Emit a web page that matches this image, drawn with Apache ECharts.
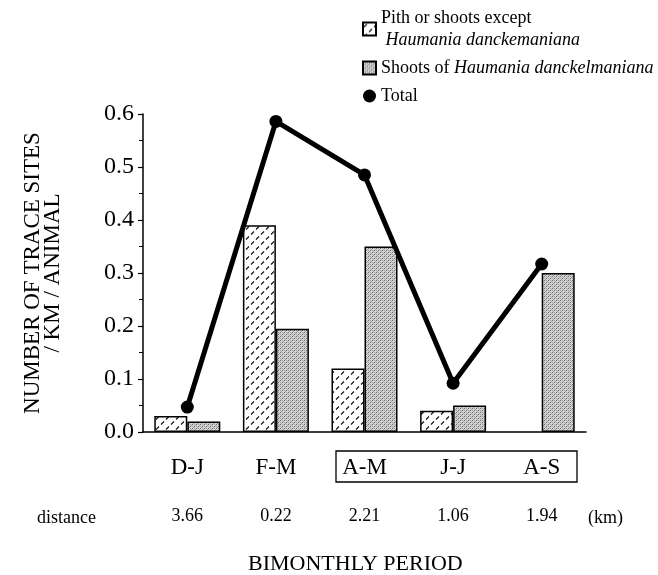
<!DOCTYPE html>
<html>
<head>
<meta charset="utf-8">
<script src="https://cdn.jsdelivr.net/npm/echarts@6/dist/echarts.min.js"></script>
<style>html,body{margin:0;padding:0;background:#fff}#c{width:658px;height:575px}</style>
</head>
<body>
<div id="c"></div>
<script>
// ---- data ----
const periods = ['D-J', 'F-M', 'A-M', 'J-J', 'A-S'];
const distances = ['3.66', '0.22', '2.21', '1.06', '1.94'];
const pith = [0.03, 0.39, 0.12, 0.04, null];
const shoots = [0.02, 0.195, 0.35, 0.05, 0.30];
const total = [0.047, 0.586, 0.485, 0.092, 0.317];
const yTicks = { min: 0, max: 0.6, interval: 0.1 };
const seriesNames = ['Pith or shoots except Haumania danckemaniana', 'Shoots of Haumania danckelmaniana', 'Total'];

const FONT = "'Liberation Serif', 'Times New Roman', serif";

function pithPattern() {
  const c = document.createElement('canvas');
  c.width = 10; c.height = 10;
  const g = c.getContext('2d');
  g.fillStyle = '#fff'; g.fillRect(0, 0, 10, 10);
  g.strokeStyle = '#111'; g.lineWidth = 1.1;
  g.beginPath();
  g.moveTo(1, 4.5); g.lineTo(4, 1.5);
  g.moveTo(6, 9.5); g.lineTo(9, 6.5);
  g.stroke();
  return c;
}
function shootsPattern() {
  const c = document.createElement('canvas');
  c.width = 4; c.height = 4;
  const g = c.getContext('2d');
  g.fillStyle = '#d4d4d4'; g.fillRect(0, 0, 4, 4);
  g.fillStyle = '#6e6e6e';
  g.fillRect(0, 0, 1, 1); g.fillRect(2, 2, 1, 1);
  g.fillStyle = '#a0a0a0';
  g.fillRect(2, 0, 1, 1); g.fillRect(0, 2, 1, 1); g.fillRect(1, 3, 1, 1); g.fillRect(3, 1, 1, 1);
  return c;
}

const chart = echarts.init(document.getElementById('c'), null, { renderer: 'canvas' });
const option = {
  animation: false,
  backgroundColor: '#fff',
  textStyle: { fontFamily: FONT, color: '#000' },
  grid: { left: 143, right: 72, top: 114, bottom: 143, containLabel: false },
  legend: {
    orient: 'vertical',
    left: 357,
    top: 4,
    itemGap: 10,
    itemWidth: 13,
    itemHeight: 13,
    data: [
      { name: seriesNames[0], icon: 'rect' },
      { name: seriesNames[1], icon: 'rect' },
      { name: seriesNames[2], icon: 'circle' }
    ],
    formatter: function (name) {
      if (name === seriesNames[0]) return '{n|Pith or shoots except}\n{i| Haumania danckemaniana}';
      if (name === seriesNames[1]) return '{n|Shoots of }{i|Haumania danckelmaniana}';
      return '{n|Total}';
    },
    textStyle: {
      fontFamily: FONT,
      rich: {
        n: { fontFamily: FONT, fontSize: 18, lineHeight: 22, color: '#000' },
        i: { fontFamily: FONT, fontSize: 18, lineHeight: 22, fontStyle: 'italic', color: '#000' }
      }
    }
  },
  xAxis: [
    {
      type: 'category',
      data: periods,
      axisLine: { lineStyle: { color: '#000', width: 1.5 } },
      axisTick: { show: false },
      axisLabel: { margin: 24, fontFamily: FONT, fontSize: 23, color: '#000' }
    },
    {
      type: 'category',
      data: distances,
      position: 'bottom',
      offset: 75,
      axisLine: { show: false },
      axisTick: { show: false },
      axisLabel: { margin: 0, fontFamily: FONT, fontSize: 18, color: '#000' }
    }
  ],
  yAxis: {
    type: 'value',
    min: yTicks.min, max: yTicks.max, interval: yTicks.interval,
    axisLine: { show: true, lineStyle: { color: '#000', width: 1.5 } },
    axisTick: { show: true, length: 5, lineStyle: { color: '#000', width: 1.2 } },
    minorTick: { show: true, splitNumber: 2, length: 4, lineStyle: { color: '#000', width: 1 } },
    splitLine: { show: false },
    axisLabel: { margin: 9, fontFamily: FONT, fontSize: 24, color: '#000', formatter: v => v.toFixed(1) },
    name: 'NUMBER OF TRACE SITES\n/ KM / ANIMAL',
    nameLocation: 'middle',
    nameGap: 80,
    nameRotate: 90,
    nameTextStyle: { fontFamily: FONT, fontSize: 23, lineHeight: 20, color: '#000', align: 'center' }
  },
  graphic: [
    { type: 'rect', shape: { x: 336, y: 451, width: 241, height: 31 }, style: { fill: null, stroke: '#000', lineWidth: 1.3 } },
    { type: 'text', left: 37, top: 509, style: { text: 'distance', font: '18px ' + FONT, fill: '#000' } },
    { type: 'text', left: 588, top: 509, style: { text: '(km)', font: '18px ' + FONT, fill: '#000' } },
    { type: 'text', left: 248, top: 553, style: { text: 'BIMONTHLY PERIOD', font: '22px ' + FONT, fill: '#000' } }
  ],
  series: [
    {
      name: seriesNames[0], type: 'bar', data: pith, barWidth: 33, barGap: '0%',
      itemStyle: { color: { image: pithPattern(), repeat: 'repeat' }, borderColor: '#000', borderWidth: 1.5 }
    },
    {
      name: seriesNames[1], type: 'bar', data: shoots, barWidth: 33, barGap: '0%',
      itemStyle: { color: { image: shootsPattern(), repeat: 'repeat' }, borderColor: '#000', borderWidth: 1.5 }
    },
    {
      name: seriesNames[2], type: 'line', data: total, z: 5,
      symbol: 'circle', symbolSize: 13,
      lineStyle: { color: '#000', width: 5 },
      itemStyle: { color: '#000' }
    }
  ]
};
chart.setOption(option);
</script>
</body>
</html>
